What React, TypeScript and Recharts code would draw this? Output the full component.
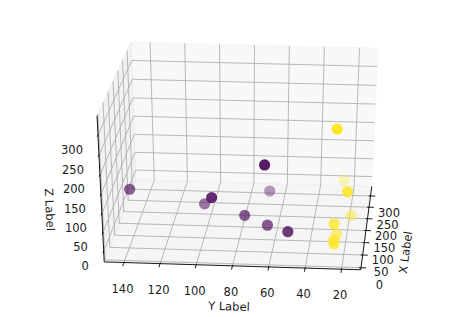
import React from 'react';
import { ScatterChart, Scatter, XAxis, YAxis, Customized } from 'recharts';

const WIDTH = 475;
const HEIGHT = 317;

// ---- data (3D scatter, two classes) ----
const POINT_X = [93, 0, 135, 2, 229, 70, 60, 0, 0, 296, 0, 169, 0, 89, 0, 0];
const POINT_Y = [141, 91.4, 101, 63, 67, 76, 63, 50, 25, 25.5, 18.4, 18.6, 25, 25, 25, 24.7];
const POINT_Z = [102, 145, 42, 231, 22.5, 56, 38, 62, 326, 16, 170, 0, 86, 0, 43, 33];
const POINT_CLASS = [0, 0, 0, 0, 0, 0, 0, 0, 1, 1, 1, 1, 1, 1, 1, 1];
const CLASS_COLORS = ['#440154', '#fde725'];

// ---- axes ----
const X_TICKS = [0, 50, 100, 150, 200, 250, 300];
const Y_TICKS = [20, 40, 60, 80, 100, 120, 140];
const Z_TICKS = [0, 50, 100, 150, 200, 250, 300];
const X_LIM = [-8, 343];
const Y_LIM = [9.5, 151];
const Z_LIM = [-28, 348];
const X_TITLE = 'X Label';
const Y_TITLE = 'Y Label';
const Z_TITLE = 'Z Label';

// ---- view ----
const ELEV = 29;
const AZIM = 185;
const DIST = 10;
const CX = 243.2;
const KX = 2525.9;
const CY = 153.33;
const KY = 1625.5;

const FONT = 'DejaVu Sans, sans-serif';
const FS = 11.5;

const er = (ELEV * Math.PI) / 180;
const ar = (AZIM * Math.PI) / 180;
const N = [Math.cos(er) * Math.cos(ar), Math.cos(er) * Math.sin(ar), Math.sin(er)];
const un = Math.hypot(N[0], N[1]);
const U = [-N[1] / un, N[0] / un, 0];
const VV = [
  N[1] * U[2] - N[2] * U[1],
  N[2] * U[0] - N[0] * U[2],
  N[0] * U[1] - N[1] * U[0],
];

type P2 = { px: number; py: number; depth: number };

function proj(x: number, y: number, z: number): P2 {
  const q = [
    (x - X_LIM[0]) / (X_LIM[1] - X_LIM[0]) - 0.5,
    (y - Y_LIM[0]) / (Y_LIM[1] - Y_LIM[0]) - 0.5,
    (z - Z_LIM[0]) / (Z_LIM[1] - Z_LIM[0]) - 0.5,
  ];
  const dot = (a: number[]) => a[0] * q[0] + a[1] * q[1] + a[2] * q[2];
  const w = DIST - dot(N);
  const sx = dot(U) / w;
  const sy = dot(VV) / w;
  return { px: CX + KX * sx, py: CY - KY * sy, depth: -DIST / w };
}

const ptsStr = (pts: P2[]) => pts.map((p) => `${p.px.toFixed(2)},${p.py.toFixed(2)}`).join(' ');

function Frame3D() {
  const [x0, x1] = X_LIM;
  const [y0, y1] = Y_LIM;
  const [z0, z1] = Z_LIM;
  const xr = x1 - x0;
  const yr = y1 - y0;
  const back = [proj(x1, y0, z0), proj(x1, y1, z0), proj(x1, y1, z1), proj(x1, y0, z1)];
  const left = [proj(x0, y1, z0), proj(x1, y1, z0), proj(x1, y1, z1), proj(x0, y1, z1)];
  const floor = [proj(x0, y0, z0), proj(x1, y0, z0), proj(x1, y1, z0), proj(x0, y1, z0)];

  const gridColor = '#b0b0b0';
  const gw = 0.9;

  const xAxisA = proj(x0, y0, z0);
  const xAxisB = proj(x1, y0, z0);
  const yAxisA = proj(x0, y1, z0);
  const yAxisB = proj(x0, y0, z0);
  const zAxisA = proj(x0, y1, z0);
  const zAxisB = proj(x0, y1, z1);

  const angle = (a: P2, b: P2) => {
    let ang = (Math.atan2(-(b.py - a.py), b.px - a.px) * 180) / Math.PI;
    if (ang > 90) ang -= 180;
    if (ang <= -90) ang += 180;
    return -ang;
  };

  const xMid = proj((x0 + x1) / 2, y0, z0);
  const yMid = proj(x0, (y0 + y1) / 2, z0);
  const zMid = proj(x0, y1, (z0 + z1) / 2);

  const textStyle = { fontFamily: FONT, fontSize: FS, fill: '#1a1a1a' } as const;

  return (
    <g>
      <polygon points={ptsStr(back)} fill="#f2f2f2" fillOpacity={0.5} stroke="#f2f2f2" strokeOpacity={0.5} />
      <polygon points={ptsStr(left)} fill="#e6e6e6" fillOpacity={0.5} stroke="#e6e6e6" strokeOpacity={0.5} />
      <polygon points={ptsStr(floor)} fill="#ececec" fillOpacity={0.5} stroke="#ececec" strokeOpacity={0.5} />

      {X_TICKS.map((t) => (
        <polyline
          key={`gx${t}`}
          points={ptsStr([proj(t, y0, z0), proj(t, y1, z0), proj(t, y1, z1)])}
          fill="none"
          stroke={gridColor}
          strokeWidth={gw}
        />
      ))}
      {Y_TICKS.map((t) => (
        <polyline
          key={`gy${t}`}
          points={ptsStr([proj(x0, t, z0), proj(x1, t, z0), proj(x1, t, z1)])}
          fill="none"
          stroke={gridColor}
          strokeWidth={gw}
        />
      ))}
      {Z_TICKS.map((t) => (
        <polyline
          key={`gz${t}`}
          points={ptsStr([proj(x0, y1, t), proj(x1, y1, t), proj(x1, y0, t)])}
          fill="none"
          stroke={gridColor}
          strokeWidth={gw}
        />
      ))}

      <line x1={xAxisA.px} y1={xAxisA.py} x2={xAxisB.px} y2={xAxisB.py} stroke="#000" strokeWidth={0.9} />
      <line x1={yAxisA.px} y1={yAxisA.py} x2={yAxisB.px} y2={yAxisB.py} stroke="#000" strokeWidth={0.9} />
      <line x1={zAxisA.px} y1={zAxisA.py} x2={zAxisB.px} y2={zAxisB.py} stroke="#000" strokeWidth={0.9} />

      {X_TICKS.map((t) => {
        const a = proj(t, y0 + 0.008 * yr, z0);
        const b = proj(t, y0 - 0.02 * yr, z0);
        const c = proj(t, y0, z0);
        return (
          <g key={`tx${t}`}>
            <line x1={a.px} y1={a.py} x2={b.px} y2={b.py} stroke="#000" strokeWidth={0.9} />
            <text x={c.px + 18.5} y={c.py + 17.4} textAnchor="middle" dominantBaseline="central" style={textStyle}>
              {t}
            </text>
          </g>
        );
      })}
      {Y_TICKS.map((t) => {
        const a = proj(x0 + 0.01 * xr, t, z0);
        const b = proj(x0 - 0.04 * xr, t, z0);
        const c = proj(x0, t, z0);
        return (
          <g key={`ty${t}`}>
            <line x1={a.px} y1={a.py} x2={b.px} y2={b.py} stroke="#000" strokeWidth={0.9} />
            <text x={c.px - 1.5} y={c.py + 26} textAnchor="middle" dominantBaseline="central" style={textStyle}>
              {t}
            </text>
          </g>
        );
      })}
      {Z_TICKS.map((t) => {
        const a = proj(x0 + 0.008 * xr, y1, t);
        const b = proj(x0 - 0.02 * xr, y1, t);
        const c = proj(x0, y1, t);
        return (
          <g key={`tz${t}`}>
            <line x1={a.px} y1={a.py} x2={b.px} y2={b.py} stroke="#000" strokeWidth={0.9} />
            <text x={c.px - 15} y={c.py + 14.5} textAnchor="end" dominantBaseline="central" style={textStyle}>
              {t}
            </text>
          </g>
        );
      })}

      <text
        x={xMid.px + 39}
        y={xMid.py + 26}
        textAnchor="middle"
        dominantBaseline="central"
        transform={`rotate(${angle(xAxisA, xAxisB)} ${xMid.px + 39} ${xMid.py + 26})`}
        style={textStyle}
      >
        {X_TITLE}
      </text>
      <text
        x={yMid.px - 3}
        y={yMid.py + 40.5}
        textAnchor="middle"
        dominantBaseline="central"
        transform={`rotate(${angle(yAxisA, yAxisB)} ${yMid.px - 3} ${yMid.py + 40.5})`}
        style={textStyle}
      >
        {Y_TITLE}
      </text>
      <text
        x={zMid.px - 51}
        y={zMid.py + 19}
        textAnchor="middle"
        dominantBaseline="central"
        transform={`rotate(${angle(zAxisA, zAxisB)} ${zMid.px - 51} ${zMid.py + 19})`}
        style={textStyle}
      >
        {Z_TITLE}
      </text>
    </g>
  );
}

export default function App() {
  const projected = POINT_X.map((x, i) => {
    const p = proj(x, POINT_Y[i], POINT_Z[i]);
    return { ...p, cls: POINT_CLASS[i] };
  });
  const depths = projected.map((p) => p.depth);
  const dMin = Math.min(...depths);
  const dMax = Math.max(...depths);
  const data = projected
    .map((p) => ({
      px: p.px,
      py: p.py,
      depth: p.depth,
      color: CLASS_COLORS[p.cls],
      alpha: 1 - ((p.depth - dMin) / (dMax - dMin)) * 0.7,
    }))
    .sort((a, b) => b.depth - a.depth);

  return (
    <div style={{ position: 'absolute', left: 0, top: 0, width: WIDTH, height: HEIGHT, background: '#fff' }}>
      <ScatterChart width={WIDTH} height={HEIGHT} margin={{ top: 0, right: 0, bottom: 0, left: 0 }}>
        <XAxis type="number" dataKey="px" domain={[0, WIDTH]} allowDataOverflow hide height={0} />
        <YAxis type="number" dataKey="py" domain={[0, HEIGHT]} allowDataOverflow reversed hide width={0} />
        <Customized component={<Frame3D />} />
        <Scatter
          data={data}
          isAnimationActive={false}
          shape={(props: any) => (
            <circle
              cx={props.cx}
              cy={props.cy}
              r={5.6}
              fill={props.payload.color}
              fillOpacity={props.payload.alpha}
            />
          )}
        />
      </ScatterChart>
    </div>
  );
}
